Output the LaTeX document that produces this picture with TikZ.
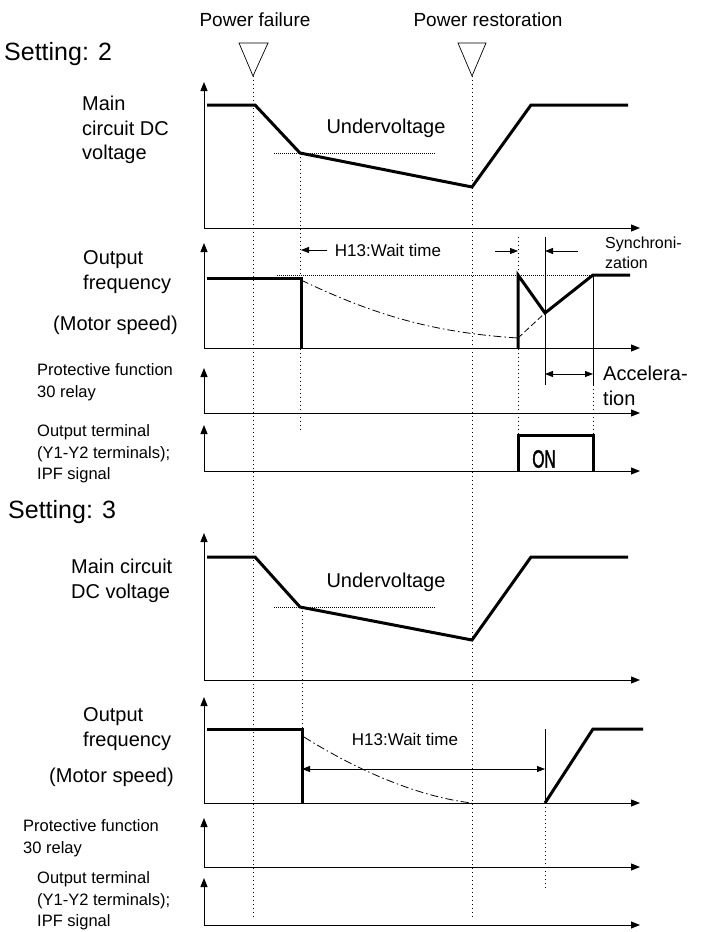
\documentclass[tikz,border=0pt]{standalone}
\usepackage{fontspec}
\setmainfont{Liberation Sans}
\newfontfamily\narrowfont[FakeStretch=0.62, FakeBold=1.5]{Liberation Sans}
\usetikzlibrary{arrows.meta, positioning}

\begin{document}
\begin{tikzpicture}[x=1pt, y=-1pt,
    axis/.style={line width=1pt, -{Triangle[length=9pt,width=7pt]}},
    sig/.style={line width=3pt, line join=miter},
    tline/.style={line width=1pt, dash pattern=on 1pt off 3pt},
    level/.style={line width=0.6pt, dash pattern=on 0.8pt off 1.2pt},
    coast/.style={line width=0.8pt, dash pattern=on 8pt off 3pt on 1.5pt off 3pt},
    dim/.style={line width=0.8pt, -{Triangle[length=8pt,width=6pt]}},
    dimboth/.style={line width=0.8pt, {Triangle[length=8pt,width=6pt]}-{Triangle[length=8pt,width=6pt]}},
    lbl/.style={anchor=west, align=left, inner sep=0pt, font=\fontsize{20}{24.5}\selectfont},
    small/.style={anchor=west, align=left, inner sep=0pt, font=\fontsize{16.5}{21.5}\selectfont}]

    \useasboundingbox (0,0) rectangle (706,932);

    % Events: power failure / power restoration
    \node[font=\fontsize{19}{22}\selectfont] (fail) at (255,20) {Power failure};
    \node[font=\fontsize{19}{22}\selectfont] (restore) at (488,20) {Power restoration};
    \coordinate (pf) at (253,76);
    \coordinate (pr) at (472,76);
    \draw[line width=0.7pt] (239,43) -- (268,43) -- (pf) -- cycle;
    \draw[line width=0.7pt] (458,43) -- (486,43) -- (pr) -- cycle;
    \draw[tline] (pf) -- (253,920);
    \draw[tline] (pr) -- (472,920);

    % ---------------- Setting 2 ----------------
    \node[anchor=west, inner sep=0pt, font=\fontsize{25}{29}\selectfont] (set2) at (4,54) {Setting: 2};

    % Main circuit DC voltage
    \node[lbl] (dc2) at (82,130) {Main\\circuit DC\\voltage};
    \draw[axis] (204,228) -- (204,82);
    \draw[axis] (204,228) -- (640,228);
    \node[font=\fontsize{20}{24}\selectfont] (uv2) at (386,128) {Undervoltage};
    \draw[level] (274,153) -- (435,153);
    \draw[sig] (207,105) -- (255,105) -- (300,153) -- (472,187) -- (531,105) -- (628,105);
    \draw[tline] (300,153) -- (300,430);

    % Output frequency
    \node[lbl] (fr2) at (83,272) {Output\\frequency};
    \node[lbl] (ms2) at (53,325) {(Motor speed)};
    \draw[axis] (204,348) -- (204,243);
    \draw[axis] (204,348) -- (640,348);
    \draw[level] (277,275) -- (593,275);
    \draw[sig] (207,278) -- (301,278) -- (301,348);
    \draw[coast] (301,280) .. controls (380,318) and (440,333) .. (518,338);
    \draw[line width=0.8pt, dash pattern=on 6pt off 3pt] (518,338) -- (545,313);
    \draw[sig] (518,348) -- (518,275) -- (545,313) -- (593,275) -- (630,275);
    \draw[tline] (518,237) -- (518,435);
    \draw[line width=0.8pt] (545,237) -- (545,385);
    \draw[line width=0.8pt] (593,275) -- (593,385);
    \draw[tline] (593,385) -- (593,435);

    % wait time / synchronization / acceleration
    \coordinate (w2a) at (301,250);
    \coordinate (w2b) at (518,251);
    \coordinate (sy) at (545,251);
    \node[font=\fontsize{17}{20}\selectfont] (wait2) at (388,250) {H13:Wait time};
    \draw[dim] (327,250) -- (w2a);
    \draw[dim] (495,251) -- (w2b);
    \draw[dim] (578,251) -- (sy);
    \node[anchor=west, align=left, inner sep=0pt, font=\fontsize{16}{19.5}\selectfont] (sync) at (605,253) {Synchroni-\\zation};
    \coordinate (ac1) at (545,374);
    \coordinate (ac2) at (593,374);
    \draw[dimboth] (ac1) -- (ac2);
    \node[lbl, font=\fontsize{20}{25}\selectfont] (accel) at (603,386) {Accelera-\\tion};

    % Protective function 30 relay
    \node[small] (prot2) at (37,382) {Protective function\\30 relay};
    \draw[axis] (204,413) -- (204,368);
    \draw[axis] (204,413) -- (640,413);

    % Output terminal IPF
    \node[small] (ipf2) at (37,454) {Output terminal\\(Y1-Y2 terminals);\\IPF signal};
    \draw[axis] (204,471) -- (204,425);
    \draw[axis] (204,471) -- (640,471);
    \draw[sig] (518,471) -- (518,435) -- (593,435) -- (593,471);
    \node[font=\narrowfont\fontsize{25}{28}\selectfont] (on) at (544,459) {ON};

    % ---------------- Setting 3 ----------------
    \node[anchor=west, inner sep=0pt, font=\fontsize{25}{29}\selectfont] (set3) at (8,512) {Setting: 3};

    % Main circuit DC voltage
    \node[lbl] (dc3) at (71,581) {Main circuit\\DC voltage};
    \draw[axis] (204,680) -- (204,533);
    \draw[axis] (204,680) -- (640,680);
    \node[font=\fontsize{20}{24}\selectfont] (uv3) at (386,582) {Undervoltage};
    \draw[level] (274,607) -- (435,607);
    \draw[sig] (207,557) -- (255,557) -- (300,607) -- (472,640) -- (531,557) -- (628,557);
    \draw[tline] (302,607) -- (302,729);

    % Output frequency
    \node[lbl] (fr3) at (83,729) {Output\\frequency};
    \node[lbl] (ms3) at (49,777) {(Motor speed)};
    \draw[axis] (204,803) -- (204,697);
    \draw[axis] (204,803) -- (640,803);
    \draw[sig] (207,729) -- (302,729) -- (302,803);
    \draw[coast] (304,737) .. controls (360,772) and (420,797) .. (472,803);
    \draw[line width=0.8pt] (545,729) -- (545,803);
    \draw[tline] (545,803) -- (545,890);
    \draw[sig] (545,803) -- (593,729) -- (643,729);
    \node[font=\fontsize{17}{20}\selectfont] (wait3) at (405,739) {H13:Wait time};
    \coordinate (w3a) at (302,769);
    \coordinate (w3b) at (545,769);
    \draw[dimboth] (w3a) -- (w3b);

    % Protective function 30 relay
    \node[small] (prot3) at (23,838) {Protective function\\30 relay};
    \draw[axis] (204,867) -- (204,818);
    \draw[axis] (204,867) -- (640,867);

    % Output terminal IPF
    \node[small] (ipf3) at (37,901) {Output terminal\\(Y1-Y2 terminals);\\IPF signal};
    \draw[axis] (204,925) -- (204,878);
    \draw[axis] (204,925) -- (640,925);

\end{tikzpicture}
\end{document}
